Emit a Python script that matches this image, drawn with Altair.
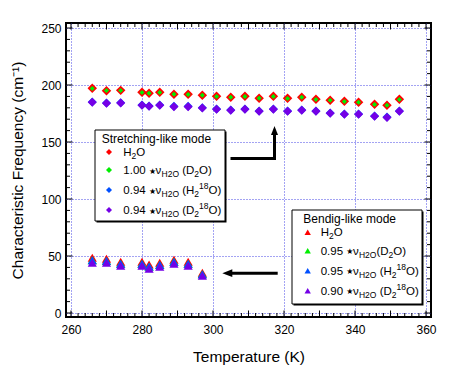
import altair as alt
import pandas as pd

# ---------------- data ----------------
stretch_T = [266, 270, 274, 280, 282, 285, 289, 293, 297, 301, 305, 309, 313,
             317, 321, 325, 329, 333, 337, 341, 345.5, 349, 352.5]
stretch_H2O = [197.1, 195.0, 195.3, 193.6, 192.7, 193.6, 191.8, 191.8, 191.0, 190.1,
               189.2, 190.1, 188.3, 190.1, 188.3, 189.2, 187.5, 186.6, 185.7, 184.8,
               183.1, 182.2, 187.5]
stretch_D2O = [197.0, 195.1, 195.2, 193.5, 192.8, 193.5, 191.9, 191.7, 191.0, 190.0,
               189.3, 190.0, 188.4, 190.0, 188.2, 189.3, 187.4, 186.7, 185.6, 184.9,
               183.0, 182.3, 187.4]
stretch_H218O = [185.1, 184.3, 184.5, 182.5, 181.6, 182.5, 181.3, 181.3, 180.1, 179.0,
                 178.1, 179.0, 177.2, 179.0, 177.2, 178.1, 177.2, 175.5, 174.6, 174.6,
                 172.8, 171.9, 177.2]
stretch_D218O = [184.8, 184.0, 184.2, 182.2, 181.3, 182.2, 181.0, 181.0, 179.8, 178.7,
                 177.8, 178.7, 176.9, 178.7, 176.9, 177.8, 176.9, 175.2, 174.3, 174.3,
                 172.5, 171.6, 176.9]

bend_T = [266, 270, 274, 280, 282, 285, 289, 293, 297]
bend_H2O = [48.4, 47.5, 44.9, 44.9, 42.5, 44.0, 46.7, 44.9, 35.3]
bend_D2O = [46.2, 45.7, 43.1, 43.1, 40.6, 42.2, 44.9, 43.1, 33.9]
bend_H218O = [46.2, 45.8, 43.2, 43.2, 40.7, 42.3, 44.9, 43.2, 34.0]
bend_D218O = [44.0, 44.0, 41.4, 41.4, 38.8, 40.5, 43.2, 41.4, 32.6]

x_label_values = [260, 280, 300, 320, 340, 360]
y_label_values = [0, 50, 100, 150, 200, 250]

# ---------------- layout / style ----------------
W, H = 365, 294
XDOM = [258.6, 361.4]
YDOM = [-3.5, 254.4]
FONT = "Liberation Sans"
GRID = "#4646e6"
RED, GREEN, BLUE, PURPLE = "#ff0000", "#00ee00", "#0050ff", "#7400e6"

xs = alt.Scale(domain=XDOM, nice=False, zero=False)
ys = alt.Scale(domain=YDOM, nice=False, zero=False)

xaxis = alt.Axis(values=x_label_values, grid=True, gridColor=GRID, gridDash=[1, 2],
                 gridWidth=1, ticks=False, tickSize=0, domain=False, labelFlush=False,
                 labelFont=FONT, labelFontSize=12, labelColor="black", labelPadding=7,
                 title="Temperature (K)", titleFont=FONT, titleFontSize=15.5,
                 titleFontWeight="normal", titleColor="black", titlePadding=14)
yaxis = alt.Axis(values=y_label_values, grid=True, gridColor=GRID, gridDash=[1, 2],
                 gridWidth=1, ticks=False, tickSize=0, domain=False, labelFlush=False,
                 labelFont=FONT, labelFontSize=12, labelColor="black", labelPadding=5,
                 title="Characteristic Frequency (cm⁻¹)", titleFont=FONT,
                 titleFontSize=15.5, titleFontWeight="normal", titleColor="black",
                 titlePadding=15)

X = alt.X("T:Q", scale=xs, axis=xaxis)
Y = alt.Y("f:Q", scale=ys, axis=yaxis)


def dxp(px):
    return XDOM[0] + px / W * (XDOM[1] - XDOM[0])


def dyp(py):
    return YDOM[1] - py / H * (YDOM[1] - YDOM[0])


def pts(T, F, color, shape, size):
    return alt.Chart(pd.DataFrame({"T": T, "f": F})).mark_point(
        shape=shape, filled=True, color=color, size=size, opacity=1
    ).encode(x=X, y=Y)


one = pd.DataFrame({"a": [0]})
layers = []

# data marks
layers.append(pts(stretch_T, stretch_H2O, RED, "diamond", 90))
layers.append(pts(stretch_T, stretch_D2O, GREEN, "diamond", 25))
layers.append(pts(stretch_T, stretch_H218O, BLUE, "diamond", 81))
layers.append(pts(stretch_T, stretch_D218O, PURPLE, "diamond", 81))
layers.append(pts(bend_T, bend_H2O, RED, "triangle-up", 85))
layers.append(pts(bend_T, bend_D2O, GREEN, "triangle-up", 85))
layers.append(pts(bend_T, bend_H218O, BLUE, "triangle-up", 85))
layers.append(pts(bend_T, bend_D218O, PURPLE, "triangle-up", 85))

# inward ticks on all four sides
x_minor = [v for v in range(260, 361, 2) if v % 10]
x_major = list(range(260, 361, 10))
y_minor = [v for v in range(0, 251, 10) if v % 50]
y_major = list(range(0, 251, 50))
for vals, L in ((x_minor, 4), (x_major, 6.5)):
    d = pd.DataFrame({"T": vals})
    layers.append(alt.Chart(d).mark_rule(color="black", strokeWidth=1).encode(
        x=X, y=alt.value(H), y2=alt.value(H - L)))
    layers.append(alt.Chart(d).mark_rule(color="black", strokeWidth=1).encode(
        x=X, y=alt.value(0), y2=alt.value(L)))
for vals, L in ((y_minor, 4), (y_major, 6.5)):
    d = pd.DataFrame({"f": vals})
    layers.append(alt.Chart(d).mark_rule(color="black", strokeWidth=1).encode(
        y=Y, x=alt.value(0), x2=alt.value(L)))
    layers.append(alt.Chart(d).mark_rule(color="black", strokeWidth=1).encode(
        y=Y, x=alt.value(W), x2=alt.value(W - L)))

# legend boxes (plot pixel coords)
for (x0, y0, x1, y1) in ((29, 107, 159, 198), (226, 187, 356, 281)):
    layers.append(alt.Chart(one).mark_rect(color="black").encode(
        x=alt.value(x0 + 1.5), x2=alt.value(x1 + 1.5),
        y=alt.value(y0 + 1.5), y2=alt.value(y1 + 1.5)))
    layers.append(alt.Chart(one).mark_rect(fill="white", stroke="black", strokeWidth=1).encode(
        x=alt.value(x0), x2=alt.value(x1), y=alt.value(y0), y2=alt.value(y1)))

# arrows
layers.append(alt.Chart(one).mark_rule(color="black", strokeWidth=3, strokeCap="square").encode(
    x=alt.value(166), x2=alt.value(208.5), y=alt.value(135.5)))
layers.append(alt.Chart(one).mark_rule(color="black", strokeWidth=3, strokeCap="square").encode(
    x=alt.value(208.5), y=alt.value(135.5), y2=alt.value(112)))
layers.append(alt.Chart(one).mark_point(shape="M0,-1L-0.78,1L0.78,1Z", filled=True,
                                        color="black", size=81, opacity=1).encode(
    x=alt.value(208.5), y=alt.value(107.5)))
layers.append(alt.Chart(one).mark_rule(color="black", strokeWidth=3).encode(
    x=alt.value(165), x2=alt.value(211.7), y=alt.value(250.2)))
layers.append(alt.Chart(one).mark_point(shape="M-1,0L1,-0.78L1,0.78Z", filled=True,
                                        color="black", size=100, opacity=1).encode(
    x=alt.value(161.3), y=alt.value(250.2)))

# legend content
ARIAL = {" ": 278, "(": 333, ")": 333, ".": 278, "D": 722, "H": 722, "O": 778, "ν": 520}
MAIN, SUB, STAR = 11.5, 8.5, 8


def tw(s, fs):
    return sum(ARIAL.get(c, 556) for c in s) * fs / 1000


stretch_rows = [
    [("H", "n"), ("2", "s"), ("O", "n")],
    [("1.00 ", "n"), ("★", "t"), ("ν", "n"), ("H2O", "s"), (" (D", "n"), ("2", "s"), ("O)", "n")],
    [("0.94 ", "n"), ("★", "t"), ("ν", "n"), ("H2O", "s"), (" (H", "n"), ("2", "s"), ("18", "p"), ("O)", "n")],
    [("0.94 ", "n"), ("★", "t"), ("ν", "n"), ("H2O", "s"), (" (D", "n"), ("2", "s"), ("18", "p"), ("O)", "n")],
]
bend_rows = [
    [("H", "n"), ("2", "s"), ("O", "n")],
    [("0.95 ", "n"), ("★", "t"), ("ν", "n"), ("H2O", "s"), ("(D", "n"), ("2", "s"), ("O)", "n")],
    [("0.95 ", "n"), ("★", "t"), ("ν", "n"), ("H2O", "s"), (" (H", "n"), ("2", "s"), ("18", "p"), ("O)", "n")],
    [("0.90 ", "n"), ("★", "t"), ("ν", "n"), ("H2O", "s"), (" (D", "n"), ("2", "s"), ("18", "p"), ("O)", "n")],
]

pieces = {"n": [], "s": [], "p": [], "t": [], "title": []}
markers = []
legends = [
    ("Stretching-like mode", 35.7, 115.3, 43, 57.3, [129, 147, 167, 187], stretch_rows, "diamond", 36),
    ("Bendig-like mode", 237.3, 196, 241.7, 254.7, [209.3, 227.7, 247.7, 267.7], bend_rows, "triangle-up", 40),
]
colors = [RED, GREEN, BLUE, PURPLE]
for title, tx, ty, mx, x0, rows_y, rows, shape, msize in legends:
    pieces["title"].append({"T": dxp(tx), "f": dyp(ty + 4.3), "text": title})
    for ry, row, col in zip(rows_y, rows, colors):
        markers.append({"T": dxp(mx), "f": dyp(ry), "shape": shape, "size": msize, "c": col})
        x = x0
        base = ry + 4.1
        for txt, kind in row:
            if kind == "t":
                pieces["t"].append({"T": dxp(x), "f": dyp(base - 0.5), "text": txt})
                x += 0.838 * STAR
                continue
            fs = MAIN if kind == "n" else SUB
            lead = len(txt) - len(txt.lstrip(" "))
            x += tw(" " * lead, fs)
            core = txt.strip(" ")
            yy = base if kind == "n" else (base + 3 if kind == "s" else base - 5)
            pieces[kind].append({"T": dxp(x), "f": dyp(yy), "text": core})
            x += tw(txt.lstrip(" "), fs)

for kind, fs, font in (("title", 12, FONT), ("n", MAIN, FONT), ("s", SUB, FONT),
                       ("p", SUB, FONT), ("t", STAR, "DejaVu Sans")):
    layers.append(alt.Chart(pd.DataFrame(pieces[kind])).mark_text(
        align="left", baseline="alphabetic", fontSize=fs, font=font, color="black"
    ).encode(x=X, y=Y, text="text:N"))

mk = pd.DataFrame(markers)
for _, r in mk.iterrows():
    layers.append(alt.Chart(pd.DataFrame({"T": [r["T"]], "f": [r["f"]]})).mark_point(
        shape=r["shape"], filled=True, color=r["c"], size=float(r["size"]), opacity=1
    ).encode(x=X, y=Y))

chart = alt.layer(*layers).properties(
    width=W, height=H,
    padding={"left": 58, "top": 15, "right": 10, "bottom": 50},
    autosize=alt.AutoSizeParams(type="none"),
    background="white",
).configure_view(stroke="black", strokeWidth=2)

chart.save("out.html", embed_options={"renderer": "svg", "actions": False})
